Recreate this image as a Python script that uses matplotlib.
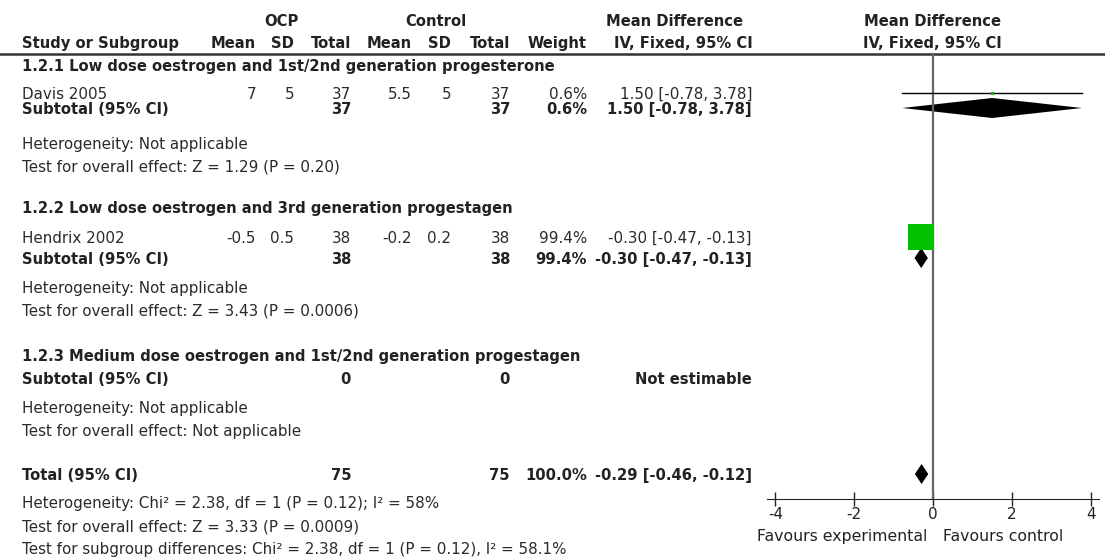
import matplotlib
matplotlib.use("Agg")
import matplotlib.pyplot as plt
from matplotlib.patches import Polygon

plt.rcParams['font.family'] = ['DejaVu Sans']
plt.rcParams['axes.unicode_minus'] = False

# study level data
studies = ["Davis 2005", "Hendrix 2002"]
ocp_mean = [7, -0.5]
ocp_sd = [5, 0.5]
ocp_n = [37, 38]
ctl_mean = [5.5, -0.2]
ctl_sd = [5, 0.2]
ctl_n = [37, 38]
weights = [0.6, 99.4]
md = [1.50, -0.30]
md_lo = [-0.78, -0.47]
md_hi = [3.78, -0.13]

# subgroups
groups = ["1.2.1 Low dose oestrogen and 1st/2nd generation progesterone",
          "1.2.2 Low dose oestrogen and 3rd generation progestagen",
          "1.2.3 Medium dose oestrogen and 1st/2nd generation progestagen"]
group_study = [0, 1, None]
sub_ocp_n = [37, 38, 0]
sub_ctl_n = [37, 38, 0]
sub_weight = [0.6, 99.4, None]
sub_md = [1.50, -0.30, None]
sub_lo = [-0.78, -0.47, None]
sub_hi = [3.78, -0.13, None]
sub_tests = ["Test for overall effect: Z = 1.29 (P = 0.20)",
             "Test for overall effect: Z = 3.43 (P = 0.0006)",
             "Test for overall effect: Not applicable"]

tot_ocp_n, tot_ctl_n = 75, 75
tot_md, tot_lo, tot_hi = -0.29, -0.46, -0.12
tot_notes = ["Heterogeneity: Chi\u00b2 = 2.38, df = 1 (P = 0.12); I\u00b2 = 58%",
             "Test for overall effect: Z = 3.33 (P = 0.0009)",
             "Test for subgroup differences: Chi\u00b2 = 2.38, df = 1 (P = 0.12), I\u00b2 = 58.1%"]

ticks = [-4, -2, 0, 2, 4]

# row layout (pixel rows)
group_rows = [(65, 93, 108, 143, 165), (207, 237, 258, 287, 310), (355, None, 378, 407, 430)]
total_rows = (474, 502, 525, 548)
axis_y = 499

W, H = 1105, 560
fig = plt.figure(figsize=(W / 100, H / 100), dpi=100)
ax = fig.add_axes([0, 0, 1, 1])
ax.set_xlim(0, W)
ax.set_ylim(H, 0)
ax.axis('off')

TC = '#222222'
FS = 10.9
FSB = 10.6
col_right = {'om': 256, 'osd': 294, 'on': 351, 'cm': 412, 'csd': 451, 'cn': 510,
             'w': 587, 'ci': 752}
LEFT = 22


def txt(x, y, s, ha='left', bold=False):
    ax.text(x, y, s, ha=ha, va='center_baseline', fontsize=FSB if bold else FS,
            color=TC if bold else '#2a2a2a',
            fontweight='bold' if bold else 'normal')


def fmt(v):
    return ('%g' % v)


def ci_str(m, lo, hi):
    return '%.2f [%.2f, %.2f]' % (m, lo, hi)


# headers
txt(281, 20, 'OCP', ha='center', bold=True)
txt(436, 20, 'Control', ha='center', bold=True)
txt(674, 20, 'Mean Difference', ha='center', bold=True)
txt(932, 20, 'Mean Difference', ha='center', bold=True)
txt(LEFT, 42, 'Study or Subgroup', bold=True)
for key, lab in [('om', 'Mean'), ('osd', 'SD'), ('on', 'Total'), ('cm', 'Mean'),
                 ('csd', 'SD'), ('cn', 'Total'), ('w', 'Weight')]:
    txt(col_right[key], 42, lab, ha='right', bold=True)
txt(683, 42, 'IV, Fixed, 95% CI', ha='center', bold=True)
txt(932, 42, 'IV, Fixed, 95% CI', ha='center', bold=True)
ax.axhline(54, color='#333333', lw=1.8)

# forest panel
fx = fig.add_axes([765.5 / W, 0, 335 / W, 1])
fx.set_xlim(-4.25, 4.25)
fx.set_ylim(H, 0)
fx.patch.set_alpha(0)
for s in ['top', 'left', 'right']:
    fx.spines[s].set_visible(False)
fx.spines['bottom'].set_position(('data', axis_y))
fx.spines['bottom'].set_bounds(-4.2, 4.2)
fx.spines['bottom'].set_color('#222222')
fx.set_yticks([])
fx.set_xticks(ticks)
fx.set_xticklabels([str(t) for t in ticks])
fx.tick_params(axis='x', direction='inout', length=10, width=1, colors=TC,
               labelsize=FS, pad=1)
fx.plot([0, 0], [54, axis_y], color='#666666', lw=1.6)


def diamond(m, lo, hi, y, h=10):
    fx.add_patch(Polygon([[lo, y], [m, y - h], [hi, y], [m, y + h]],
                         closed=True, color='black', lw=0))


for g in range(3):
    title_y, study_y, sub_y, het_y, test_y = group_rows[g]
    txt(LEFT, title_y, groups[g], bold=True)
    i = group_study[g]
    if i is not None:
        txt(LEFT, study_y, studies[i])
        txt(col_right['om'], study_y, fmt(ocp_mean[i]), ha='right')
        txt(col_right['osd'], study_y, fmt(ocp_sd[i]), ha='right')
        txt(col_right['on'], study_y, fmt(ocp_n[i]), ha='right')
        txt(col_right['cm'], study_y, fmt(ctl_mean[i]), ha='right')
        txt(col_right['csd'], study_y, fmt(ctl_sd[i]), ha='right')
        txt(col_right['cn'], study_y, fmt(ctl_n[i]), ha='right')
        txt(col_right['w'], study_y, '%.1f%%' % weights[i], ha='right')
        txt(col_right['ci'], study_y, ci_str(md[i], md_lo[i], md_hi[i]), ha='right')
        fx.plot([md_lo[i], md_hi[i]], [study_y, study_y], color='black', lw=1)
        side = max(2.6 * weights[i] ** 0.5, 3) * 0.72
        fx.plot([md[i]], [study_y], marker='s', ms=side, color='#00c000', mew=0)
    txt(LEFT, sub_y, 'Subtotal (95% CI)', bold=True)
    txt(col_right['on'], sub_y, str(sub_ocp_n[g]), ha='right', bold=True)
    txt(col_right['cn'], sub_y, str(sub_ctl_n[g]), ha='right', bold=True)
    if sub_md[g] is not None:
        txt(col_right['w'], sub_y, '%.1f%%' % sub_weight[g], ha='right', bold=True)
        txt(col_right['ci'], sub_y, ci_str(sub_md[g], sub_lo[g], sub_hi[g]), ha='right', bold=True)
        diamond(sub_md[g], sub_lo[g], sub_hi[g], sub_y)
    else:
        txt(col_right['ci'], sub_y, 'Not estimable', ha='right', bold=True)
    txt(LEFT, het_y, 'Heterogeneity: Not applicable')
    txt(LEFT, test_y, sub_tests[g])

ty = total_rows[0]
txt(LEFT, ty, 'Total (95% CI)', bold=True)
txt(col_right['on'], ty, str(tot_ocp_n), ha='right', bold=True)
txt(col_right['cn'], ty, str(tot_ctl_n), ha='right', bold=True)
txt(col_right['w'], ty, '100.0%', ha='right', bold=True)
txt(col_right['ci'], ty, ci_str(tot_md, tot_lo, tot_hi), ha='right', bold=True)
diamond(tot_md, tot_lo, tot_hi, ty)
for note, y in zip(tot_notes, total_rows[1:]):
    txt(LEFT, y, note)

fx.text(-0.15, 535, 'Favours experimental', ha='right', va='center_baseline', fontsize=11.3, color=TC)
fx.text(0.25, 535, 'Favours control', ha='left', va='center_baseline', fontsize=11.3, color=TC)

fig.savefig('out.png', dpi=100)
